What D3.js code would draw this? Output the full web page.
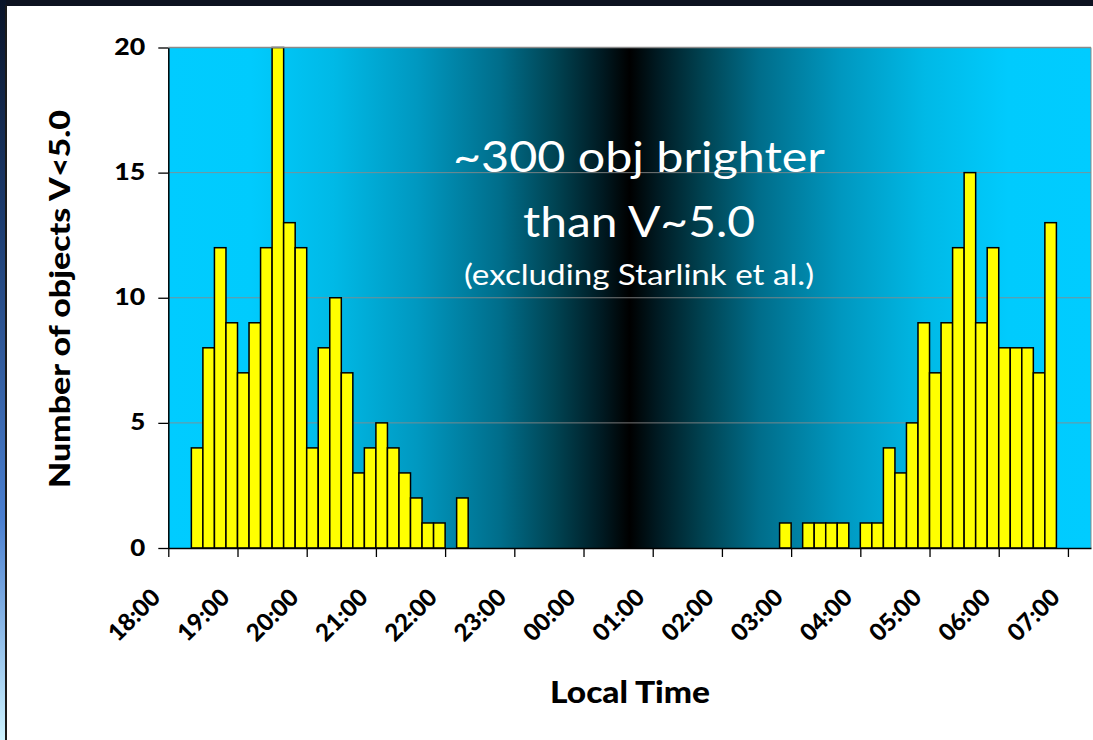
<!DOCTYPE html>
<html><head><meta charset="utf-8">
<script src="https://cdn.jsdelivr.net/npm/d3@7"></script>
<style>html,body{margin:0;padding:0;background:#fff;overflow:hidden}</style>
</head><body><svg id="c" width="1093" height="740"></svg>
<script>
// ---- data ----
const binStarts = ["18:20","18:30","18:40","18:50","19:00","19:10","19:20","19:30","19:40","19:50",
  "20:00","20:10","20:20","20:30","20:40","20:50","21:00","21:10","21:20","21:30","21:40","21:50",
  "22:10",
  "02:50","03:10","03:20","03:30","03:40","04:00","04:10","04:20","04:30","04:40","04:50",
  "05:00","05:10","05:20","05:30","05:40","05:50","06:00","06:10","06:20","06:30","06:40"];
const counts = [4,8,12,9,7,9,12,20,13,12,
  4,8,10,7,3,4,5,4,3,2,1,1,
  2,
  1,1,1,1,1,1,1,4,3,5,9,
  7,9,12,15,9,12,8,8,8,7,13];
const tickLabels = ["18:00","19:00","20:00","21:00","22:00","23:00","00:00","01:00","02:00","03:00","04:00","05:00","06:00","07:00"];
const yTicks = [0,5,10,15,20];
const yTitle = "Number of objects V<5.0";
const xTitle = "Local Time";
const noteLines = ["~300 obj brighter","than V~5.0","(excluding Starlink et al.)"];
const binMinutes = 10;

const toMin = s => { const [h,m] = s.split(":").map(Number); return ((h*60+m) - 1080 + 1440) % 1440; };

const svg = d3.select("#c");
const W = 1093, H = 740;
const L = 168.3, R = 1091, T = 47.5, B = 548;

const defs = svg.append("defs");
const bg = defs.append("linearGradient").attr("id","bg").attr("x1","0").attr("x2","1").attr("y1","0").attr("y2","0");
[[0,"#00ccff"],[0.09,"#00cbfd"],[0.18,"#00b9e6"],[0.27,"#0098c0"],[0.36,"#006d8a"],[0.42,"#004352"],[0.47,"#001a22"],[0.5,"#000000"],
 [0.53,"#001a22"],[0.58,"#004352"],[0.64,"#006d8a"],[0.73,"#0098c0"],[0.82,"#00b9e6"],[0.91,"#00cbfd"],[1,"#00ccff"]]
 .forEach(([o,c]) => bg.append("stop").attr("offset",o).attr("stop-color",c));
const side = defs.append("linearGradient").attr("id","side").attr("x1","0").attr("x2","0").attr("y1","0").attr("y2","1");
[[0,"#0a1428"],[0.3,"#1c3c70"],[0.7,"#4a7fd0"],[1,"#cdf3ff"]].forEach(([o,c]) => side.append("stop").attr("offset",o).attr("stop-color",c));

// frame
svg.append("rect").attr("x",0).attr("y",0).attr("width",W).attr("height",H).attr("fill","#fff");
svg.append("rect").attr("x",0).attr("y",0).attr("width",W).attr("height",6).attr("fill","#0d1220");
svg.append("rect").attr("x",0).attr("y",0).attr("width",6).attr("height",H).attr("fill","url(#side)");
svg.append("rect").attr("x",5).attr("y",5).attr("width",2).attr("height",H).attr("fill","#1a1a1a");

const x = d3.scaleLinear().domain([0, 800]).range([L, R]);
const y = d3.scaleLinear().domain([0, 20]).range([B, T]);

// plot background
svg.append("rect").attr("x",L).attr("y",T).attr("width",R-L).attr("height",B-T).attr("fill","url(#bg)");

// gridlines
svg.append("g").selectAll("line").data(yTicks.filter(d => d>0)).join("line")
  .attr("x1",L).attr("x2",R).attr("y1",d=>y(d)).attr("y2",d=>y(d))
  .attr("stroke","#8a8a8a").attr("stroke-width",1).attr("stroke-opacity",0.85);
svg.append("line").attr("x1",R).attr("x2",R).attr("y1",T).attr("y2",B).attr("stroke","#8a8a8a").attr("stroke-width",1);

// annotation text
const note = svg.append("g").attr("fill","#fff").attr("font-family","Lato, 'Open Sans', sans-serif").attr("text-anchor","middle");
const noteY = [172, 237, 285];
const noteSize = [42, 42, 29];
const noteLen = [372, 232, 350];
noteLines.forEach((t,i) => note.append("text").attr("x",639).attr("y",noteY[i]).attr("font-size",noteSize[i])
  .attr("textLength",noteLen[i]).attr("lengthAdjust","spacingAndGlyphs").text(t));

// bars
svg.append("g").selectAll("rect").data(binStarts.map((s,i)=>({t:toMin(s), v:counts[i]}))).join("rect")
  .attr("x", d => x(d.t)).attr("width", d => x(d.t+binMinutes) - x(d.t))
  .attr("y", d => y(d.v)).attr("height", d => y(0) - y(d.v))
  .attr("fill","#ffff00").attr("stroke","#000").attr("stroke-width",1.5);

// axes
const fontAxis = "Lato, 'DejaVu Sans', sans-serif";
const xAxis = svg.append("g").attr("transform",`translate(0,${B})`)
  .call(d3.axisBottom(x).tickValues(tickLabels.map(toMin)).tickFormat((d,i)=>tickLabels[i]).tickSize(9).tickSizeOuter(0));
xAxis.select(".domain").attr("stroke","#000").attr("stroke-width",1.5);
xAxis.selectAll(".tick line").attr("stroke","#000").attr("stroke-width",1.3);
xAxis.selectAll(".tick text").attr("x",0).attr("y",0).attr("dy",null).attr("text-anchor","end")
  .attr("transform","translate(-7,51) rotate(-45)")
  .attr("font-family",fontAxis).attr("font-weight","900").attr("font-size",24).attr("fill","#000")
  .attr("textLength",62).attr("lengthAdjust","spacingAndGlyphs");

const yAxis = svg.append("g").attr("transform",`translate(${L},0)`)
  .call(d3.axisLeft(y).tickValues(yTicks).tickFormat(d3.format("d")).tickSize(10).tickPadding(13).tickSizeOuter(0));
yAxis.select(".domain").attr("stroke","#000").attr("stroke-width",1.5);
yAxis.selectAll(".tick line").attr("stroke","#000").attr("stroke-width",1.3);
yAxis.selectAll(".tick text").attr("font-family",fontAxis).attr("font-weight","900").attr("font-size",22).attr("fill","#000")
  .attr("textLength",d => d >= 10 ? 31 : 15).attr("lengthAdjust","spacingAndGlyphs");

// top border
svg.append("line").attr("x1",L).attr("x2",R).attr("y1",T).attr("y2",T).attr("stroke","#8a8a8a").attr("stroke-width",1.5);

// titles
svg.append("text").attr("transform","translate(70,299) rotate(-90)").attr("text-anchor","middle")
  .attr("font-family",fontAxis).attr("font-weight","900").attr("font-size",29)
  .attr("textLength",378).attr("lengthAdjust","spacingAndGlyphs").text(yTitle);
svg.append("text").attr("x",630).attr("y",703).attr("text-anchor","middle")
  .attr("font-family",fontAxis).attr("font-weight","900").attr("font-size",30)
  .attr("textLength",160).attr("lengthAdjust","spacingAndGlyphs").text(xTitle);
</script></body></html>
